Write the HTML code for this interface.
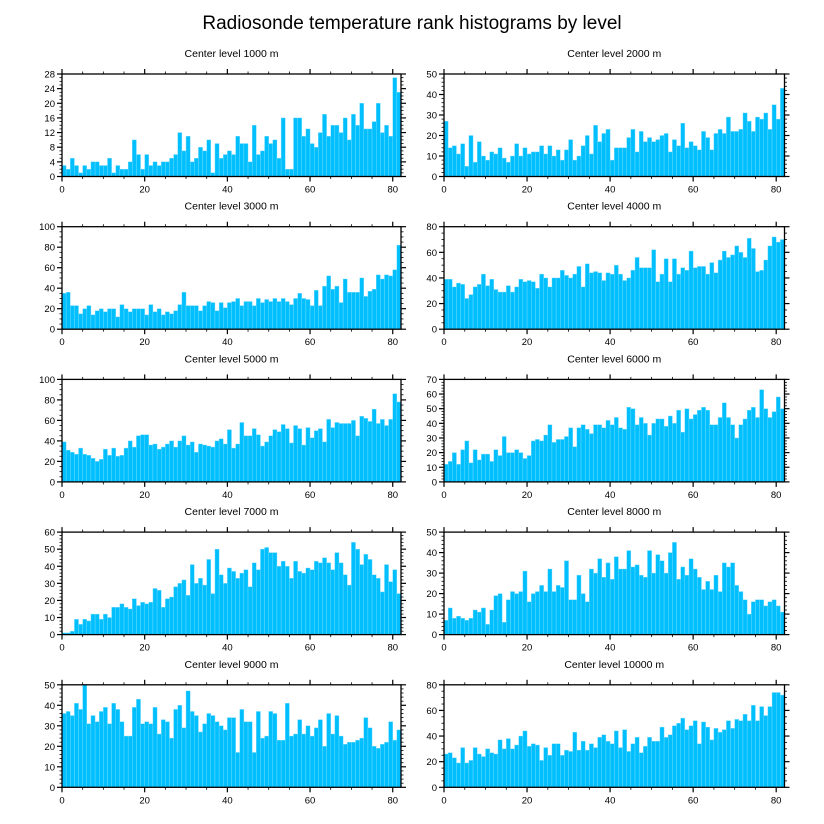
<!DOCTYPE html>
<html><head><meta charset="utf-8"><style>
html,body{margin:0;padding:0;background:#fff;}
svg{display:block;font-family:"Liberation Sans",Arial,sans-serif;}
</style></head><body>
<svg id="chart" width="824" height="824" viewBox="0 0 824 824">
<text x="412" y="29" text-anchor="middle" font-size="19" fill="#000">Radiosonde temperature rank histograms by level</text>
</svg>
<script>
const levels = ["1000","2000","3000","4000","5000","6000","7000","8000","9000","10000"];
const yMax = [28,50,100,80,100,70,60,50,50,80];
const yStep = [4,10,20,20,20,10,10,10,10,20];
const yMinor = [1,2,5,5,5,2,2,2,2,5];
const xTicks = [0,20,40,60,80];
const v1000 = [3,2,5,3,1,3,2,4,4,3,3,5,1,3,2,2,4,10,6,2,6,3,4,3,4,4,5,6,12,7,11,4,5,8,7,10,1,9,5,6,7,6,11,9,9,4,14,6,7,11,9,10,5,16,2,2,16,16,11,13,9,8,12,17,11,14,14,12,16,10,17,14,20,13,13,15,20,12,14,11,27,23];
const v2000 = [27,14,15,11,16,5,20,7,17,10,8,12,11,14,9,7,10,16,10,14,11,12,12,15,11,15,10,13,8,13,18,8,10,15,20,11,25,17,21,23,8,14,14,14,19,23,12,22,17,19,17,18,20,21,12,18,15,26,14,17,15,13,22,19,13,21,23,21,29,22,22,23,31,27,22,29,28,31,23,35,28,43];
const v3000 = [35,36,23,23,15,20,23,14,18,20,17,20,20,12,24,20,17,20,20,20,14,24,17,20,14,17,15,18,24,36,23,23,23,18,23,27,26,18,26,21,26,27,30,23,27,27,23,30,26,29,27,30,27,30,27,24,30,35,30,29,23,38,23,42,52,39,42,26,49,36,36,36,50,32,37,39,53,49,53,52,58,82];
const v4000 = [39,39,33,36,35,24,27,33,35,43,34,39,31,29,29,34,29,33,39,37,38,37,32,43,40,33,40,40,46,42,40,43,49,33,51,44,45,44,38,44,43,50,43,38,40,46,56,48,48,48,62,37,43,55,37,55,43,48,46,61,48,49,49,43,52,44,54,61,56,58,65,60,56,71,63,45,46,54,65,72,68,70];
const v5000 = [39,31,29,27,33,27,26,23,20,22,32,26,33,25,26,33,40,34,45,46,46,36,37,32,34,37,40,34,40,45,36,39,29,37,36,35,34,40,42,37,51,33,37,58,45,45,52,46,35,39,45,51,49,56,52,38,55,52,36,53,43,50,52,39,61,53,58,57,57,57,60,45,64,62,59,71,57,61,55,61,86,78];
const v6000 = [12,14,20,12,22,28,13,22,15,19,19,14,22,18,31,20,20,22,20,16,18,28,29,28,32,39,27,29,29,31,37,24,37,39,36,33,39,39,37,42,39,44,37,36,51,50,39,44,40,32,40,43,43,38,45,40,49,34,50,43,46,49,51,49,39,39,44,54,44,39,30,39,43,49,51,44,63,50,44,48,58,50];
const v7000 = [1,1,2,9,6,9,8,12,12,9,12,10,16,16,18,16,15,21,17,19,18,19,27,26,16,21,22,28,30,32,23,41,30,33,29,44,24,50,35,30,39,37,33,36,38,28,42,38,50,51,48,48,40,43,40,33,43,37,36,39,38,43,42,45,42,38,48,42,35,29,54,50,41,47,44,35,33,25,41,31,38,24];
const v8000 = [7,13,8,9,8,7,8,12,11,13,5,12,19,20,6,17,21,20,21,31,16,20,21,24,21,32,21,24,23,36,17,17,29,20,16,32,30,37,28,35,27,38,32,32,41,33,34,29,28,41,30,39,36,30,40,45,27,33,29,37,32,28,22,26,22,29,21,35,33,35,24,21,17,10,16,17,17,14,16,17,14,11];
const v9000 = [36,37,35,41,38,50,31,35,32,37,39,31,41,38,32,25,25,39,43,31,32,31,39,26,33,32,24,38,40,29,47,37,35,27,31,36,35,32,30,28,34,34,17,38,32,32,17,37,24,25,37,36,23,23,41,25,26,33,26,30,25,29,33,20,36,26,35,25,21,22,22,23,24,34,29,20,19,21,22,32,23,28];
const v10000 = [26,27,23,19,31,19,21,31,26,24,30,27,26,37,30,38,30,33,40,44,32,34,33,21,31,25,34,34,25,29,28,43,29,36,29,34,31,39,41,36,34,44,31,45,28,34,39,27,32,39,36,36,47,39,41,48,50,54,45,48,52,34,51,47,37,46,43,45,52,46,53,52,57,52,64,52,63,56,63,74,74,72];
const series = [v1000,v2000,v3000,v4000,v5000,v6000,v7000,v8000,v9000,v10000];

const NS = "http://www.w3.org/2000/svg";
const svg = document.getElementById('chart');
function mk(tag, attrs, parent){const e=document.createElementNS(NS,tag);for(const k in attrs)e.setAttribute(k,attrs[k]);parent.appendChild(e);return e;}
const XMAX = 82;
for (let p=0;p<10;p++){
  const col=p%2,row=Math.floor(p/2);
  const L = col===0?62:444, R = col===0?401:784.5;
  const T = 74+row*152.7, B = T+102.5;
  const xs = v => L + v/XMAX*(R-L);
  const ys = v => B - v/yMax[p]*(B-T);
  const g = mk('g',{},svg);
  
  
  const t = mk('text',{x:(L+R)/2,y:T-17,'text-anchor':'middle','font-size':'10.5',fill:'#000'},g);
  t.textContent='Center level '+levels[p]+' m';
  
  
  const vals = series[p];
  for (let i=0;i<vals.length;i++){
    const r = mk('rect',{x:xs(i),y:ys(vals[i]),width:xs(i+1)-xs(i),height:B-ys(vals[i]),fill:'#00bfff',stroke:'#7fdcff','stroke-width':'0.4'},g);
    
    
  }
  // frame
  const f = mk('rect',{x:L,y:T,width:R-L,height:B-T,fill:'none',stroke:'#000','stroke-width':'1.3'},g);
  
  
  // x ticks
  for (let v=0; v<=XMAX; v+=5){
    const major = v%20===0, len = major?5:2.5, x=xs(v);
    mk('line',{x1:x,x2:x,y1:B,y2:B+len,stroke:'#000','stroke-width':major?1.2:0.8},g);
    mk('line',{x1:x,x2:x,y1:T,y2:T-len,stroke:'#000','stroke-width':major?1.2:0.8},g);
  }
  for (const v of xTicks){
    const lt = mk('text',{x:xs(v),y:B+16,'text-anchor':'middle','font-size':'9.5',fill:'#000'},g);
    lt.textContent=v;
    
    
  }
  // y ticks
  for (let v=0; v<=yMax[p]+1e-9; v+=yMinor[p]){
    const major = Math.abs(v/yStep[p]-Math.round(v/yStep[p]))<1e-6, len = major?5:2.5, y=ys(v);
    mk('line',{x1:L,x2:L-len,y1:y,y2:y,stroke:'#000','stroke-width':major?1.2:0.8},g);
    mk('line',{x1:R,x2:R+len,y1:y,y2:y,stroke:'#000','stroke-width':major?1.2:0.8},g);
    if (major){
      const yt = mk('text',{x:L-7,y:y+3.5,'text-anchor':'end','font-size':'9.5',fill:'#000'},g);
      yt.textContent=Math.round(v);
      
      
    }
  }
}
</script>
</body></html>
